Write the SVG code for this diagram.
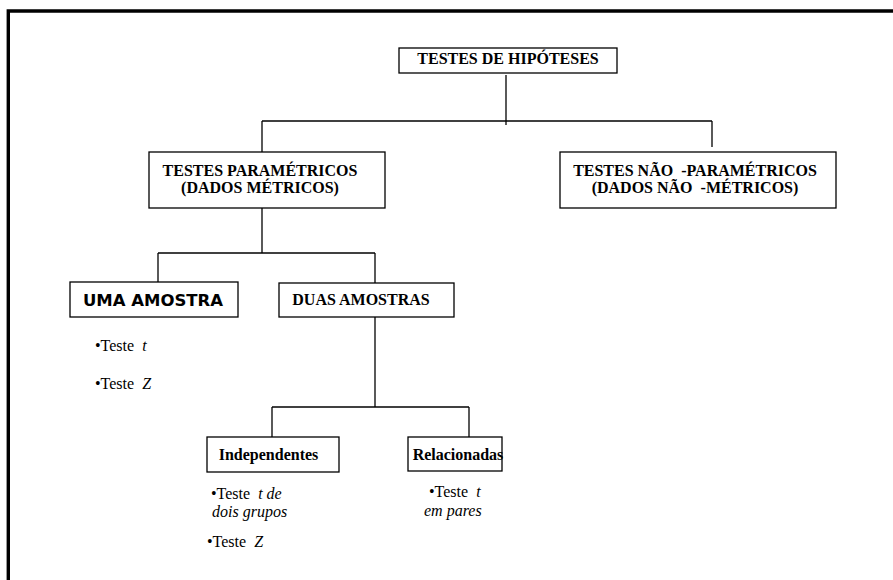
<svg xmlns="http://www.w3.org/2000/svg" width="893" height="580" viewBox="0 0 893 580">
<style>
  .box { fill: #fff; stroke: #000; stroke-width: 1.3; }
  .conn { stroke: #000; stroke-width: 1.3; fill: none; }
  .t { font-family: "Liberation Serif", "Times New Roman", serif; font-size: 16px; font-weight: bold; fill: #000; }
  .s { font-family: "DejaVu Sans", Verdana, sans-serif; font-size: 16.5px; font-weight: bold; fill: #000; }
  .b { font-family: "Liberation Serif", "Times New Roman", serif; font-size: 16px; fill: #000; }
  .i { font-style: italic; }
</style>
<rect x="0" y="0" width="893" height="580" fill="#fff"/>
<path d="M8.3 580 V11 H893" fill="none" stroke="#000" stroke-width="3.4"/>

<g id="connectors">
  <path class="conn" d="M506 75 V125"/>
  <path class="conn" d="M262 121 H712"/>
  <path class="conn" d="M262 121 V152"/>
  <path class="conn" d="M712 121 V147"/>
  <path class="conn" d="M262 208 V253"/>
  <path class="conn" d="M158 253 H375"/>
  <path class="conn" d="M158 253 V282"/>
  <path class="conn" d="M375 253 V283"/>
  <path class="conn" d="M375 317 V407"/>
  <path class="conn" d="M272 407 H469"/>
  <path class="conn" d="M272 407 V437"/>
  <path class="conn" d="M469 407 V437"/>
</g>

<g id="n-hipoteses">
  <rect class="box" x="399" y="48" width="218" height="25"/>
  <text class="t" x="508" y="63.5" text-anchor="middle">TESTES DE HIPÓTESES</text>
</g>

<g id="n-parametricos">
  <rect class="box" x="149" y="152" width="236" height="56"/>
  <text class="t" x="260" y="176" text-anchor="middle">TESTES PARAMÉTRICOS</text>
  <text class="t" x="260" y="193" text-anchor="middle">(DADOS MÉTRICOS)</text>
</g>

<g id="n-nao-parametricos">
  <rect class="box" x="560" y="152" width="276" height="56"/>
  <text class="t" x="695" y="176" text-anchor="middle" xml:space="preserve">TESTES NÃO  -PARAMÉTRICOS</text>
  <text class="t" x="695" y="193" text-anchor="middle" xml:space="preserve">(DADOS NÃO  -MÉTRICOS)</text>
</g>

<g id="n-uma-amostra">
  <rect class="box" x="70" y="282" width="168" height="35"/>
  <text class="s" x="153" y="306" text-anchor="middle">UMA AMOSTRA</text>
  <text class="b" x="95" y="351">•Teste<tspan class="i" dx="8">t</tspan></text>
  <text class="b" x="95" y="389">•Teste<tspan class="i" dx="8">Z</tspan></text>
</g>

<g id="n-duas-amostras">
  <rect class="box" x="279" y="283" width="175" height="34"/>
  <text class="t" x="361" y="305" text-anchor="middle">DUAS AMOSTRAS</text>
</g>

<g id="n-independentes">
  <rect class="box" x="207" y="437" width="132" height="35"/>
  <text class="t" x="268.5" y="460" text-anchor="middle">Independentes</text>
  <text class="b" x="211" y="499">•Teste<tspan class="i" dx="8">t de</tspan></text>
  <text class="b i" x="212" y="517">dois grupos</text>
  <text class="b" x="207" y="547">•Teste<tspan class="i" dx="8">Z</tspan></text>
</g>

<g id="n-relacionadas">
  <rect class="box" x="408" y="437" width="94" height="34"/>
  <text class="t" x="458" y="460" text-anchor="middle">Relacionadas</text>
  <text class="b" x="429" y="497">•Teste<tspan class="i" dx="8">t</tspan></text>
  <text class="b i" x="424" y="516">em pares</text>
</g>
</svg>
